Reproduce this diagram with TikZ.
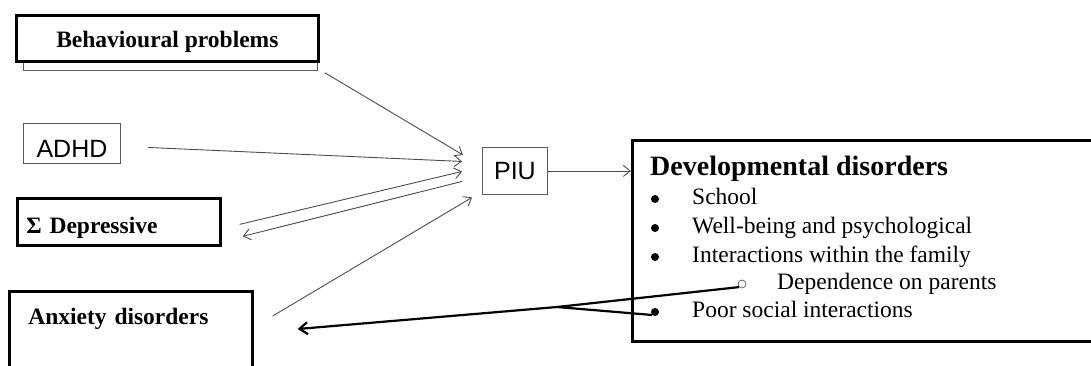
\documentclass[tikz,border=0pt]{standalone}
\usepackage{fontspec}
\setmainfont{Liberation Serif}
\newfontfamily\arialfont{Liberation Sans}
\usetikzlibrary{arrows.meta}

\begin{document}
\begin{tikzpicture}[
  x=1pt, y=-1pt,
  every node/.style={inner sep=0pt},
  thinbox/.style={
    draw=black!65,
    line width=0.9pt,
    font=\arialfont\fontsize{25}{28}\selectfont
  },
  thickbox/.style={
    draw=black,
    line width=2.7pt,
    font=\bfseries\fontsize{23.5}{28}\selectfont
  },
  headtext/.style={font=\bfseries\fontsize{28}{32}\selectfont},
  itemtext/.style={font=\fontsize{23.5}{28}\selectfont},
  bullet/.style={circle, fill=black, minimum size=8pt},
  subbullet/.style={circle, draw=black!60, line width=0.8pt, minimum size=8pt},
  link/.style={
    draw=black!70,
    line width=0.9pt,
    -{Straight Barb[length=7pt,width=11pt]}
  },
  heavylink/.style={
    draw=black,
    line width=2.2pt,
    -{Straight Barb[length=8pt,width=12pt]}
  }
]
\useasboundingbox (0,0) rectangle (1091,365);

% causes
\node[thickbox, anchor=north west, minimum width=302pt, minimum height=46pt,
  text height=19pt, text depth=0pt] (beh) at (15,14) {Behavioural problems};
\draw[black!65, line width=0.9pt] ([xshift=8pt]beh.south west)
  |- ([shift={(-2,8)}]beh.south east) -- ([xshift=-2pt]beh.south east);
\node[thinbox, anchor=north west, minimum width=97pt, minimum height=40pt,
  text height=28pt, text depth=0pt] (adhd) at (23,123) {ADHD};
\node[thickbox, anchor=north west, minimum width=203pt, minimum height=47pt,
  inner xsep=9pt, text width=185pt, align=left,
  text height=23pt, text depth=0pt] (dep) at (16,197) {Σ Depressive};
\node[thickbox, anchor=north west, minimum width=243pt,
  inner xsep=19pt, text width=205pt, align=left,
  text height=33pt, text depth=70pt] (anx) at (8,290) {Anxiety disorders};

% centre
\node[thinbox, anchor=north west, minimum width=65pt, minimum height=47pt] (piu) at (482,147) {PIU};

% outcomes
\node[thickbox, anchor=north west, minimum width=464pt, minimum height=201pt] (dev) at (631,139) {};
\node[headtext, anchor=base west] (devhead) at (650,175) {Developmental disorders};
\foreach \name/\ypos/\txt in {school/204/School,
    wellbeing/233/Well-being and psychological,
    family/262/Interactions within the family,
    social/317/Poor social interactions} {
  \node[bullet] (b-\name) at (655,\ypos-5) {};
  \node[itemtext, anchor=base west] (t-\name) at (692,\ypos) {\txt};
}
\node[subbullet] (b-parents) at (742,284) {};
\node[itemtext, anchor=base west] (t-parents) at (777,289) {Dependence on parents};

% arrows into PIU
\draw[link] ([shift={(5,10)}]beh.south east) -- ([shift={(-19,-16)}]piu.west);
\draw[link] ([shift={(27,4)}]adhd.east) -- ([shift={(-20,-9.5)}]piu.west);
\draw[link] ([shift={(18,2.5)}]dep.east) -- ([shift={(-20,0.5)}]piu.west);
\draw[link] ([shift={(-20,10.5)}]piu.west) -- ([shift={(21,14.5)}]dep.east);
\draw[link] ([shift={(19,26)}]anx.north east) -- ([shift={(-10,26.5)}]piu.west);
\draw[link] (piu.east) -- (piu.east -| dev.west);

% feedback to anxiety
\coordinate (split) at (557,307);
\draw[heavylink] (split) -- ([shift={(44,39)}]anx.north east);
\draw[black, line width=2.2pt] (b-parents.south west) -- (split) -- (b-social.south west);
\end{tikzpicture}
\end{document}
